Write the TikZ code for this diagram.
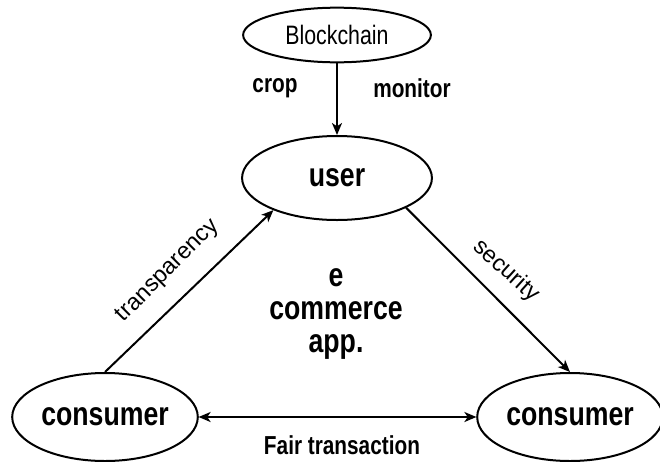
\documentclass[tikz,border=0pt]{standalone}
\usepackage{fontspec}
\setmainfont{Liberation Sans}
\usetikzlibrary{shapes.geometric,arrows.meta}

\begin{document}
\begin{tikzpicture}[x=0.75pt,y=-0.75pt,line width=1.5pt,
  narrow/.style={xscale=0.8,transform shape},
  oval/.style={ellipse,draw,inner sep=0pt,narrow},
  big/.style={font=\fontsize{25}{25}\selectfont\bfseries},
  tag/.style={font=\fontsize{19.5}{22}\selectfont\bfseries,narrow},
  side/.style={font=\fontsize{17.5}{20}\selectfont},
  arr/.style={-{Stealth[length=9pt,width=7.5pt,inset=2.5pt]}},
  both/.style={{Stealth[length=9pt,width=7.5pt,inset=2.5pt]}-{Stealth[length=9pt,width=7.5pt,inset=2.5pt]}}]
  \useasboundingbox (0,0) rectangle (660,461);
  \node[oval,minimum width=176pt,minimum height=41pt,font=\fontsize{20}{24}\selectfont] (chain) at (337,35) {Blockchain};
  \node[oval,big,minimum width=178pt,minimum height=63pt] (user) at (337,178) {user};
  \node[oval,big,minimum width=174pt,minimum height=66pt] (left) at (105,417) {consumer};
  \node[oval,big,minimum width=174pt,minimum height=66pt] (right) at (570,417) {consumer};
  \node[tag] (crop) at (275,88) {crop};
  \node[tag] (mon) at (412,88) {monitor};
  \node[big,narrow,align=center] (app) at (336,314) {e\\commerce\\app.};
  \node[side,rotate=45] (tr) at (168,271) {transparency};
  \node[side,rotate=-42] (sec) at (506,271) {security};
  \node[tag] (fair) at (342,445) {Fair transaction};
  \draw[arr] (chain) -- (user);
  \draw[arr] (left.north) -- (user.202);
  \draw[arr] (user.341) -- (right.north);
  \draw[both] (left) -- (right);
\end{tikzpicture}
\end{document}
